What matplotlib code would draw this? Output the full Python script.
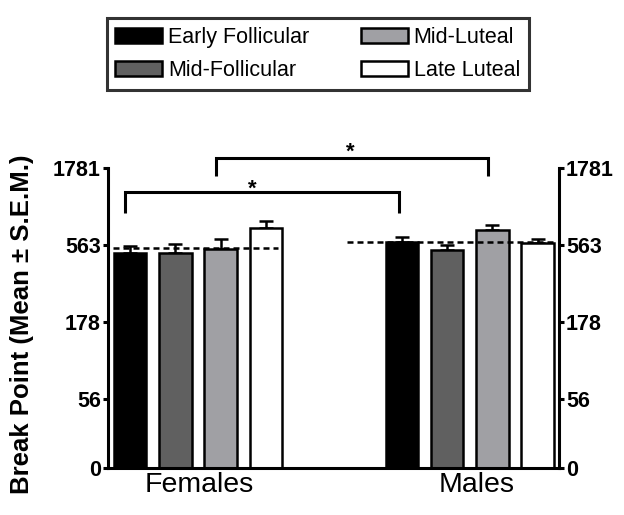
import numpy as np
import matplotlib
matplotlib.use("Agg")
import matplotlib.pyplot as plt
from matplotlib.patches import Patch

plt.rcParams['font.family'] = ['Liberation Sans', 'DejaVu Sans']

# values (break point, original units)
phases = ['Early Follicular', 'Mid-Follicular', 'Mid-Luteal', 'Late Luteal']
groups = ['Females', 'Males']
female_mean = [498, 496, 532, 725]
female_sem = [60, 75, 83, 86]
male_mean = [587, 526, 709, 582]
male_sem = [49, 41, 49, 35]
group_line = [538, 590]  # dashed group means
tick_vals = ['0', '56', '178', '563', '1781']

colors = ['#000000', '#606060', '#a0a0a4', '#ffffff']
base = 1.30
tick_pos = [1.30, 1.75, 2.25, 2.75, 3.25]

fig = plt.figure(figsize=(6.24, 5.15), dpi=100)
ax = fig.add_axes([0.1731, 0.0907, 0.7228, 0.6375])

x_f = np.arange(4)
x_m = np.arange(4) + 6
for xs, mean, sem in [(x_f, female_mean, female_sem), (x_m, male_mean, male_sem)]:
    mean = np.array(mean, float)
    sem = np.array(sem, float)
    lm = np.log10(mean)
    up = np.log10(mean + sem) - lm
    ax.errorbar(xs, lm, yerr=[np.zeros(4), up], fmt='none', ecolor='k',
                elinewidth=1.8, capsize=5, capthick=1.8, zorder=1)
    ax.bar(xs, lm - base, bottom=base, width=0.72, color=colors,
           edgecolor='k', linewidth=1.8, zorder=2)

# group mean dashed lines
ax.plot([-0.38, 3.27], [np.log10(group_line[0])] * 2, color='k', lw=1.8,
        ls=(0, (2.4, 1.6)), zorder=3)
ax.plot([4.78, 9.4], [np.log10(group_line[1])] * 2, color='k', lw=1.8,
        ls=(0, (2.4, 1.6)), zorder=3)

# significance brackets
ax.plot([-0.11, -0.11, 5.93, 5.93], [2.959, 3.092, 3.092, 2.959], color='k',
        lw=2.2, clip_on=False, solid_capstyle='butt', solid_joinstyle='miter')
ax.plot([1.90, 1.90, 7.91, 7.91], [3.196, 3.315, 3.315, 3.196], color='k',
        lw=2.2, clip_on=False, solid_capstyle='butt', solid_joinstyle='miter')
ax.text(2.69, 3.11, '*', fontsize=16, fontweight='bold', ha='center', va='center')
ax.text(4.86, 3.355, '*', fontsize=16, fontweight='bold', ha='center', va='center')

ax.set_xlim(-0.486, 9.47)
ax.set_ylim(base, 3.433)
ax.set_yticks(tick_pos)
ax.set_yticklabels(tick_vals, fontweight='bold')
ax.set_xticks([1.53, 7.65])
ax.set_xticklabels(groups, fontsize=20.5)
ax.tick_params(axis='x', length=0, pad=3)
ax.tick_params(axis='y', direction='out', length=3.6, width=2.2, labelsize=15.5,
               pad=1.5, right=True, labelright=True)

ax.spines['top'].set_visible(False)
for s in ['left', 'right']:
    ax.spines[s].set_bounds(base, 3.25)
    ax.spines[s].set_linewidth(2.2)
ax.spines['bottom'].set_linewidth(2.2)

fig.text(22 / 624, 0.37, 'Break Point (Mean ± S.E.M.)', rotation=90,
         fontsize=18.5, fontweight='bold', ha='center', va='center')

handles = [Patch(facecolor=c, edgecolor='k', linewidth=1.8) for c in colors]
leg = fig.legend(handles, phases, ncol=2, loc='center',
                 bbox_to_anchor=(317.5 / 624, 1 - 54 / 515), fontsize=15.5,
                 frameon=True, fancybox=False, edgecolor='k',
                 handlelength=2.2, handleheight=0.72, handletextpad=0.25,
                 columnspacing=2.4, labelspacing=0.55, borderpad=0.4)
leg.get_frame().set_linewidth(2.2)

fig.savefig('out.png', dpi=100)
